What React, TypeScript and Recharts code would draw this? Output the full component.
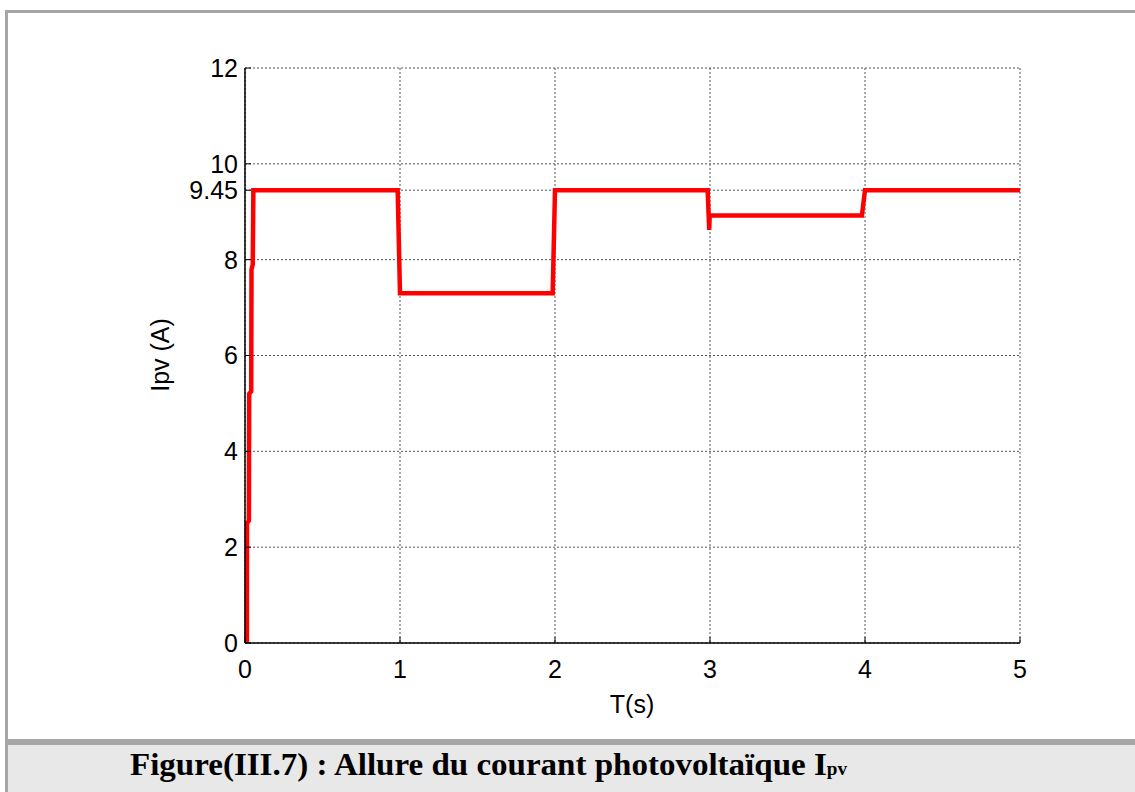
import { CartesianGrid, Line, LineChart, XAxis, YAxis } from "recharts";

// simulation samples of the PV current
const timeS = [
  0.012, 0.013, 0.025, 0.027, 0.04, 0.042, 0.05, 0.054, 0.985, 1.0, 1.985,
  2.0, 2.985, 2.995, 2.998, 3.98, 4.0, 5.0,
];
const currentA = [
  0, 2.5, 2.55, 5.2, 5.25, 7.8, 7.9, 9.45, 9.45, 7.3, 7.3, 9.45, 9.45, 8.62,
  8.92, 8.92, 9.45, 9.45,
];
const xTicks = [0, 1, 2, 3, 4, 5];
const yTicks = [0, 2, 4, 6, 8, 9.45, 10, 12];

const data = timeS.map((t, i) => ({ t, ipv: currentA[i] }));

const tickStyle = { fontSize: 25, fill: "#000", fontFamily: "Liberation Sans" };

export default function App() {
  return (
    <div
      style={{
        position: "absolute",
        left: 0,
        top: 0,
        width: 1135,
        height: 792,
        background: "#fff",
        overflow: "hidden",
      }}
    >
      {/* outer frame */}
      <div style={{ position: "absolute", left: 5, top: 10, width: 1140, height: 800, borderLeft: "3px solid #a6a6a6", borderTop: "3px solid #a6a6a6" }} />
      <div style={{ position: "absolute", left: 8, top: 739, width: 1130, height: 6, background: "#a6a6a6" }} />
      <div style={{ position: "absolute", left: 8, top: 745, width: 1130, height: 47, background: "#e8e8e8" }} />
      <div
        style={{
          position: "absolute",
          left: 130,
          top: 745,
          fontFamily: "Liberation Serif",
          fontWeight: "bold",
          fontSize: 31,
          lineHeight: "40px",
          whiteSpace: "nowrap",
          transform: "scaleX(1.065)",
          transformOrigin: "left center",
        }}
      >
        Figure(III.7) : Allure du courant photovoltaïque I
        <span style={{ fontSize: 18 }}>pv</span>
      </div>

      <div style={{ position: "absolute", left: 0, top: 0 }}>
        <LineChart
          width={1135}
          height={792}
          data={data}
          margin={{ top: 68, right: 115, bottom: 119, left: 185 }}
        >
          <CartesianGrid stroke="#555" strokeDasharray="2 2" />
          <XAxis
            dataKey="t"
            type="number"
            domain={[0, 5]}
            ticks={xTicks}
            interval={0}
            height={30}
            tickSize={-6}
            tickMargin={23}
            tick={tickStyle}
            stroke="#000"
            axisLine={{ stroke: "#000", strokeWidth: 1.5 }}
          />
          <XAxis
            xAxisId="top"
            orientation="top"
            type="number"
            domain={[0, 5]}
            ticks={xTicks}
            interval={0}
            height={0}
            tickSize={-6}
            tick={false}
            stroke="#000"
            axisLine={{ stroke: "#000", strokeWidth: 1.5 }}
          />
          <YAxis
            type="number"
            domain={[0, 12]}
            ticks={yTicks}
            interval={0}
            width={60}
            tickSize={-6}
            tickMargin={13}
            tick={tickStyle}
            stroke="#000"
            axisLine={{ stroke: "#000", strokeWidth: 1.5 }}
          />
          <YAxis
            yAxisId="right"
            orientation="right"
            type="number"
            domain={[0, 12]}
            ticks={yTicks}
            interval={0}
            width={0}
            tickSize={-6}
            tick={false}
            stroke="#000"
            axisLine={{ stroke: "#000", strokeWidth: 1.5 }}
          />
          <Line
            type="linear"
            dataKey="ipv"
            stroke="#ff0000"
            strokeWidth={4.5}
            dot={false}
            isAnimationActive={false}
          />
        </LineChart>
      </div>

      <div
        style={{
          position: "absolute",
          left: 632,
          top: 704,
          transform: "translate(-50%, -50%)",
          fontFamily: "Liberation Sans",
          fontSize: 25,
          whiteSpace: "nowrap",
        }}
      >
        T(s)
      </div>
      <div
        style={{
          position: "absolute",
          left: 160,
          top: 355,
          transform: "translate(-50%, -50%) rotate(-90deg)",
          fontFamily: "Liberation Sans",
          fontSize: 25,
          whiteSpace: "nowrap",
        }}
      >
        Ipv (A)
      </div>
    </div>
  );
}
